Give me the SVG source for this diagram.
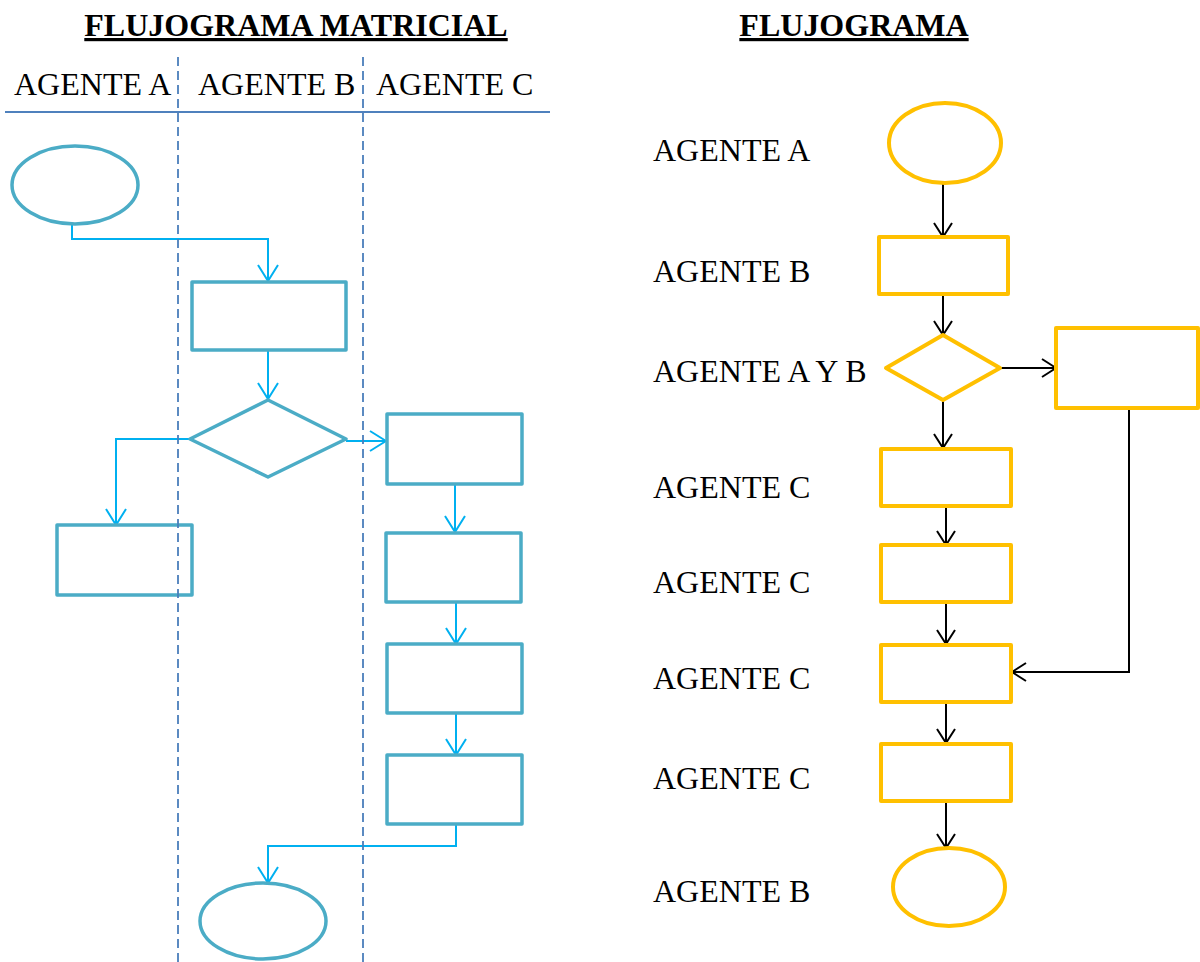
<svg xmlns="http://www.w3.org/2000/svg" width="1200" height="962" viewBox="0 0 1200 962">
  <defs>
    <marker id="arrowBlue" viewBox="0 0 18 22" refX="17" refY="11" markerWidth="18" markerHeight="22" markerUnits="userSpaceOnUse" orient="auto">
      <path d="M1,1 L17,11 L1,21" fill="none" stroke="#00b0f0" stroke-width="2"/>
    </marker>
    <marker id="arrowBlack" viewBox="0 0 16 20" refX="15" refY="10" markerWidth="16" markerHeight="20" markerUnits="userSpaceOnUse" orient="auto">
      <path d="M1,1 L15,10 L1,19" fill="none" stroke="#000" stroke-width="2"/>
    </marker>
  </defs>
  <style>
    .title { font-family: "Liberation Serif", "Times New Roman", serif; font-size: 32px; font-weight: bold; fill: #000; text-decoration: underline; }
    .lbl { font-family: "Liberation Serif", "Times New Roman", serif; font-size: 32px; fill: #000; }
    .lane { stroke: #4a7ebb; stroke-width: 1.8; stroke-dasharray: 9 5; fill: none; }
    .blue { fill: #fff; stroke: #4bacc6; stroke-width: 3.5; stroke-linejoin: round; }
    .gold { fill: #fff; stroke: #ffc000; stroke-width: 4; stroke-linejoin: round; }
    .cb { fill: none; stroke: #00b0f0; stroke-width: 2; marker-end: url(#arrowBlue); }
    .ck { fill: none; stroke: #000; stroke-width: 2; marker-end: url(#arrowBlack); }
  </style>
  <rect width="1200" height="962" fill="#fff"/>

  <!-- Swimlane chart -->
  <g id="matrix-header">
    <text class="title" x="296" y="36" text-anchor="middle">FLUJOGRAMA MATRICIAL</text>
    <text class="lbl" x="14" y="95">AGENTE A</text>
    <text class="lbl" x="198" y="95">AGENTE B</text>
    <text class="lbl" x="376" y="95">AGENTE C</text>
    <line x1="5" y1="112" x2="550" y2="112" stroke="#4f81bd" stroke-width="2"/>
  </g>

  <g id="m-connectors">
    <path class="cb" d="M72,224 V239 H268 V281"/>
    <path class="cb" d="M268,351 V399"/>
    <path class="cb" d="M190,439 H116 V525"/>
    <path class="cb" d="M346,441 H386"/>
    <path class="cb" d="M455,484 V532"/>
    <path class="cb" d="M456,602 V644"/>
    <path class="cb" d="M456,713 V755"/>
    <path class="cb" d="M456,824 V846 H268 V883"/>
  </g>

  <g id="m-start"><ellipse class="blue" cx="75" cy="185" rx="63" ry="39"/></g>
  <g id="m-b-task"><rect class="blue" x="192" y="282" width="154" height="68"/></g>
  <g id="m-decision"><polygon class="blue" points="268,400 346,439 268,477 190,439"/></g>
  <g id="m-a-task"><rect class="blue" x="57" y="525" width="135" height="70"/></g>
  <g id="m-c-task1"><rect class="blue" x="387" y="414" width="135" height="70"/></g>
  <g id="m-c-task2"><rect class="blue" x="386" y="533" width="135" height="69"/></g>
  <g id="m-c-task3"><rect class="blue" x="387" y="644" width="135" height="69"/></g>
  <g id="m-c-task4"><rect class="blue" x="387" y="755" width="135" height="69"/></g>
  <g id="m-end"><ellipse class="blue" cx="263" cy="921" rx="63" ry="38"/></g>

  <!-- lane dividers sit on top of the shapes -->
  <g id="m-lanes">
    <line class="lane" x1="178" y1="57" x2="178" y2="962"/>
    <line class="lane" x1="363" y1="57" x2="363" y2="962"/>
  </g>

  <!-- Plain flowchart -->
  <g id="flow-header">
    <text class="title" x="854" y="36" text-anchor="middle">FLUJOGRAMA</text>
    <text class="lbl" x="653" y="161">AGENTE A</text>
    <text class="lbl" x="653" y="282">AGENTE B</text>
    <text class="lbl" x="653" y="382">AGENTE A Y B</text>
    <text class="lbl" x="653" y="498">AGENTE C</text>
    <text class="lbl" x="653" y="593">AGENTE C</text>
    <text class="lbl" x="653" y="689">AGENTE C</text>
    <text class="lbl" x="653" y="789">AGENTE C</text>
    <text class="lbl" x="653" y="902">AGENTE B</text>
  </g>

  <g id="f-connectors">
    <path class="ck" d="M943,183 V237"/>
    <path class="ck" d="M943,294 V335"/>
    <path class="ck" d="M1000,368 H1056"/>
    <path class="ck" d="M943,400 V448"/>
    <path class="ck" d="M1129,408 V672 H1012"/>
    <path class="ck" d="M946,506 V545"/>
    <path class="ck" d="M946,602 V644"/>
    <path class="ck" d="M946,702 V743"/>
    <path class="ck" d="M946,801 V848"/>
  </g>

  <g id="f-start"><ellipse class="gold" cx="945" cy="143" rx="56" ry="40"/></g>
  <g id="f-b-task"><rect class="gold" x="879" y="237" width="129" height="57"/></g>
  <g id="f-decision"><polygon class="gold" points="943,335 1000,368 943,400 886,368"/></g>
  <g id="f-side-task"><rect class="gold" x="1056" y="328" width="142" height="80"/></g>
  <g id="f-c-task1"><rect class="gold" x="881" y="449" width="130" height="57"/></g>
  <g id="f-c-task2"><rect class="gold" x="881" y="545" width="130" height="57"/></g>
  <g id="f-c-task3"><rect class="gold" x="881" y="645" width="130" height="57"/></g>
  <g id="f-c-task4"><rect class="gold" x="881" y="744" width="130" height="57"/></g>
  <g id="f-end"><ellipse class="gold" cx="949" cy="887" rx="56" ry="39"/></g>
</svg>
